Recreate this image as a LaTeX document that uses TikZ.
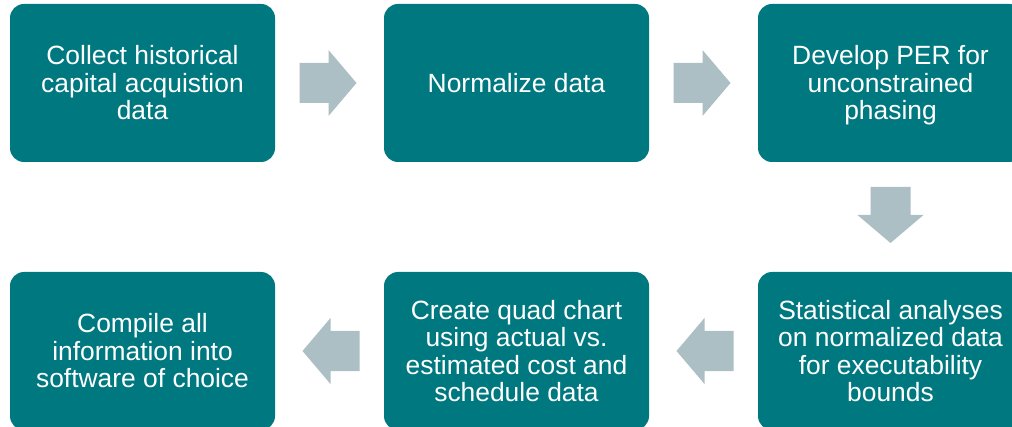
\documentclass[tikz,border=0pt]{standalone}
\usepackage{fontspec}
\setmainfont{Liberation Sans}
\usetikzlibrary{calc}
\definecolor{tealbox}{RGB}{0,120,128}
\definecolor{arrgray}{RGB}{172,191,196}
\tikzset{
  stepbox/.style={fill=tealbox, rounded corners=7pt, minimum width=132.5pt, minimum height=79pt,
    inner sep=0pt, align=center, text=white, font=\fontsize{13.2pt}{13.75pt}\selectfont},
  blockarr/.style={fill=arrgray}
}
\begin{document}
\begin{tikzpicture}[x=0.5pt,y=-0.5pt]
\useasboundingbox (0,0) rectangle (1012,427);
\clip (0,0) rectangle (1012,427);
\node[stepbox] (b1) at (142.5,83) {Collect historical\\capital acquistion\\data};
\node[stepbox] (b2) at (516.5,83) {Normalize data};
\node[stepbox] (b3) at (890.5,83) {Develop PER for\\unconstrained\\\smash{phasing}\vphantom{d}};
\node[stepbox] (b4) at (890.5,351) {Statistical analyses\\on normalized data\\for executability\\bounds};
\node[stepbox] (b5) at (516.5,351) {Create quad chart\\using actual vs.\\estimated cost and\\schedule data};
\node[stepbox] (b6) at (142.5,351) {Compile all\\information into\\software of choice};
\coordinate (a12) at ($(b1.east)!0.5!(b2.west)$);
\coordinate (a23) at ($(b2.east)!0.5!(b3.west)$);
\coordinate (a34) at ($(b3.south)!0.5!(b4.north)+(0,-2)$);
\coordinate (a45) at ($(b4.west)!0.5!(b5.east)$);
\coordinate (a56) at ($(b5.west)!0.5!(b6.east)$);
\foreach \c in {a12,a23}{
  \fill[blockarr] (\c) ++(-30,-20) -- ++(29,0) -- ++(0,-13) -- ++(28,33) -- ++(-28,33) -- ++(0,-13) -- ++(-29,0) -- cycle;
}
\foreach \c in {a45,a56}{
  \fill[blockarr] (\c) ++(30,-20) -- ++(-29,0) -- ++(0,-13) -- ++(-28,33) -- ++(28,33) -- ++(0,-13) -- ++(29,0) -- cycle;
}
\fill[blockarr] (a34) ++(-20,-28) -- ++(40,0) -- ++(0,28) -- ++(13,0) -- ++(-33,28) -- ++(-33,-28) -- ++(13,0) -- cycle;
\end{tikzpicture}
\end{document}
